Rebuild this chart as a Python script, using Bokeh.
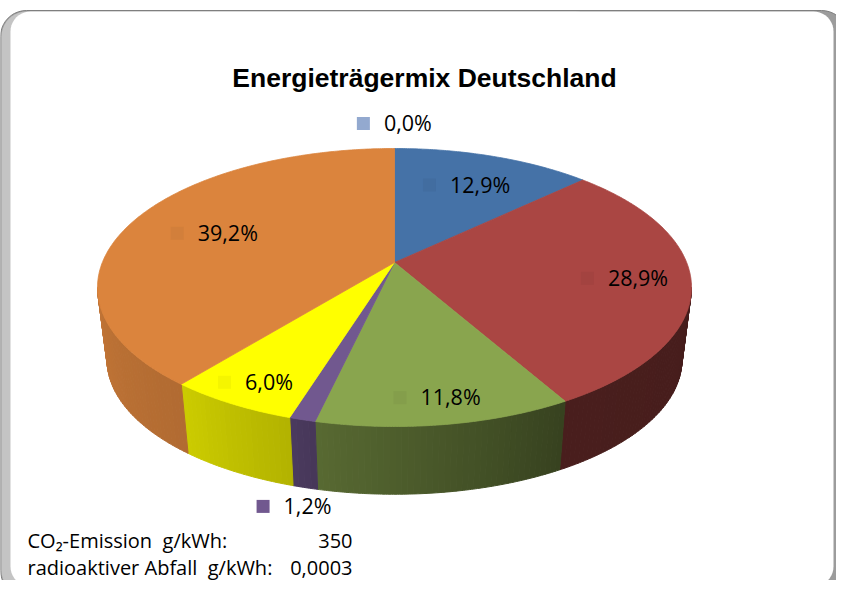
import math
from bokeh.plotting import figure
from bokeh.models import Range1d
from bokeh.embed import file_html
from bokeh.resources import INLINE
from bokeh.core.properties import value

# ---------------- data ----------------
TITLE = "Energieträgermix Deutschland"
SHARES = [0.0, 12.9, 28.9, 11.8, 1.2, 6.0, 39.2]          # percent, clockwise from 12 o'clock
COLORS = ["#93A9CF", "#4572A7", "#AA4643", "#89A54E", "#71588F", "#FFFF00", "#DB843D"]
INFO_LABELS = ["CO₂-Emission\u00a0 g/kWh:", "radioaktiver Abfall\u00a0 g/kWh:"]
INFO_VALUES = ["350", "0,0003"]

# ---------------- style / layout ----------------
SIDE_SHADE = [(0.5, 0.5), (0.5, 0.5), (0.43, 0.41), (0.64, 0.40),
              (0.66, 0.62), (0.80, 0.70), (0.88, 0.81)]
LABEL_PLACE = [("top", 1.27), ("top", 0.70), ("top", 0.78), ("top", 0.86),
               ("bottom", 1.10), ("top", 0.87), ("top", 0.68)]

W, H = 836, 580
CX, ECY = 394.0, 287.0          # centre of top ellipse (page px)
RX, RY, LIFT = 297.0, 139.0, 25.0
THICK, SHRINK = 73.0, 0.968
G = LIFT / RY
A = RX * math.sqrt(1 - G * G)
APEX_Y = ECY - LIFT

LABEL_FS = 21.5
INFO_FS = 20
TITLE_FS = 26.5
BASE_FIX = 0.4                  # svg alphabetic baseline correction (em)


def proj(t, r=1.0):
    u = r * math.sin(t)
    v = r * math.cos(t)
    w = 1 + G * v
    return CX + A * u / w, ECY - (RY * v + LIFT) / w


def proj_bottom(t, r=1.0):
    x, y = proj(t, r)
    return CX + SHRINK * (x - CX), APEX_Y + THICK + SHRINK * (y - APEX_Y)


def shade(hexcol, f):
    h = hexcol.lstrip("#")
    r, g, b = (int(h[i:i + 2], 16) for i in (0, 2, 4))
    return "#%02x%02x%02x" % tuple(max(0, min(255, int(round(c * f)))) for c in (r, g, b))


def rrect(x0, y0, x1, y1, r, n=10):
    xs, ys = [], []
    corners = [(x1 - r, y0 + r, -90, 0), (x1 - r, y1 - r, 0, 90),
               (x0 + r, y1 - r, 90, 180), (x0 + r, y0 + r, 180, 270)]
    for cx, cy, s, e in corners:
        for k in range(n + 1):
            a = math.radians(s + (e - s) * k / n)
            xs.append(cx + r * math.cos(a))
            ys.append(cy + r * math.sin(a))
    return xs, ys


p = figure(width=W, height=H, x_range=Range1d(0, W), y_range=Range1d(H, 0),
           output_backend="svg", toolbar_location=None, min_border=0)
p.axis.visible = False
p.grid.visible = False
p.outline_line_color = None
p.background_fill_color = "white"
p.border_fill_color = "white"

# ---- frame ----
fx, fy = rrect(0, 10, 847, 596, 26)
p.patch(fx, fy, fill_color="#9c9c9c", line_color="#7f7f7f", line_width=1)
lx0, ly0 = rrect(1, 11, 600, 595, 25)
p.patch(lx0, ly0, fill_color="#c4c4c4", line_color=None)
wx, wy = rrect(10, 11, 833, 586, 20)
p.patch(wx, wy, fill_color="white", line_color=None)

# ---- slice angles ----
total = sum(SHARES)
bounds = []
cum = 0.0
for s in SHARES:
    a0 = cum / total * 2 * math.pi
    cum += s
    a1 = cum / total * 2 * math.pi
    bounds.append((a0, a1))

# ---- side walls ----
vis_lo = math.acos(-G)
vis_hi = 2 * math.pi - vis_lo
wxs, wys, wcols = [], [], []
for i, (a0, a1) in enumerate(bounds):
    lo, hi = max(a0, vis_lo), min(a1, vis_hi)
    if hi <= lo:
        continue
    n = max(1, int(math.degrees(hi - lo) / 1.0))
    fl, fr = SIDE_SHADE[i]
    for k in range(n):
        ta = lo + (hi - lo) * k / n
        tb = lo + (hi - lo) * (k + 1) / n
        ts = [ta + (tb - ta) * j / 3 for j in range(4)]
        top = [proj(t) for t in ts]
        bot = [proj_bottom(t) for t in reversed(ts)]
        pts = top + bot
        wxs.append([q[0] for q in pts])
        wys.append([q[1] for q in pts])
        frac = (hi - (ta + tb) / 2) / (hi - lo)
        wcols.append(shade(COLORS[i], fl + (fr - fl) * frac))
p.patches(wxs, wys, fill_color=wcols, line_color=wcols, line_width=1)

# ---- top faces ----
txs, tys, tcols = [], [], []
for i, (a0, a1) in enumerate(bounds):
    if SHARES[i] <= 0:
        continue
    n = max(2, int(math.degrees(a1 - a0) / 0.5))
    pts = [proj(a0 + (a1 - a0) * k / n) for k in range(n + 1)]
    txs.append([CX] + [q[0] for q in pts])
    tys.append([APEX_Y] + [q[1] for q in pts])
    tcols.append(COLORS[i])
p.patches(txs, tys, fill_color=tcols, line_color=tcols, line_width=0.8)

# ---- data labels ----
CHAR_W = {",": 0.26, "%": 0.84}
kx, ky, kc, lx, ly, lt = [], [], [], [], [], []
for i, (a0, a1) in enumerate(bounds):
    kind, r = LABEL_PLACE[i]
    mid = (a0 + a1) / 2
    bx, by = proj(mid, r) if kind == "top" else proj_bottom(mid, r)
    txt = ("%.1f%%" % SHARES[i]).replace(".", ",")
    tw = LABEL_FS * sum(CHAR_W.get(c, 0.572) for c in txt)
    left = bx - (27 + tw) / 2
    kx.append(left + 6.5)
    ky.append(by)
    kc.append(COLORS[i] if r > 1 else shade(COLORS[i], 0.96))
    lx.append(left + 27)
    ly.append(by + 0.36 * LABEL_FS - BASE_FIX * LABEL_FS)
    lt.append(txt)
p.rect(kx, ky, width=13, height=13, fill_color=kc, line_color=None)
p.text(lx, ly, text=lt, text_font=value("Open Sans"), text_font_size=value("%.1fpx" % LABEL_FS),
       text_align="left", text_baseline="alphabetic", text_color="black")

# ---- title ----
p.text([424], [88 - BASE_FIX * TITLE_FS], text=[TITLE], text_font=value("Liberation Sans"),
       text_font_style="bold", text_font_size=value("%.1fpx" % TITLE_FS), text_align="center",
       text_baseline="alphabetic", text_color="black")

# ---- info lines ----
info_y = [548 - BASE_FIX * INFO_FS, 575 - BASE_FIX * INFO_FS]
p.text([27, 27], info_y, text=INFO_LABELS, text_font=value("Open Sans"),
       text_font_size=value("%dpx" % INFO_FS), text_align="left", text_baseline="alphabetic",
       text_color="black")
p.text([352, 352], info_y, text=INFO_VALUES, text_font=value("Open Sans"),
       text_font_size=value("%dpx" % INFO_FS), text_align="right", text_baseline="alphabetic",
       text_color="black")

open("out.html", "w").write(file_html(p, INLINE))
